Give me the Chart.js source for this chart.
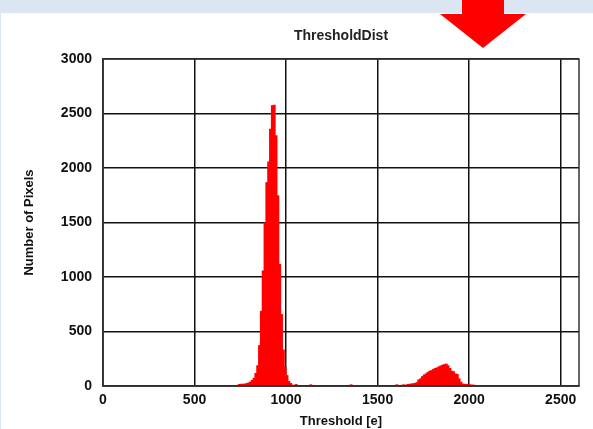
<!DOCTYPE html>
<html>
<head>
<meta charset="utf-8">
<script src="https://cdn.jsdelivr.net/npm/chart.js@4.4.1/dist/chart.umd.min.js"></script>
<style>
html, body { margin: 0; padding: 0; background: #fff; }
#wrap { position: relative; width: 593px; height: 429px; overflow: hidden; background: #fff; }
#band { position: absolute; left: 0; top: 0; width: 593px; height: 13px; background: #dce6f2; }
#strip { position: absolute; left: 0; top: 0; width: 1px; height: 429px; background: #dce6f2; }
#arrow { position: absolute; left: 440px; top: 0; width: 86px; height: 48px; background: #ff0000;
  clip-path: polygon(22px 0, 64px 0, 64px 14px, 86px 14px, 43px 48px, 0 14px, 22px 14px); }
</style>
</head>
<body>
<div id="wrap">
  <canvas id="histChart"></canvas>
  <div id="band"></div>
  <div id="strip"></div>
  <div id="arrow"></div>
</div>
<script>
// bin centres [e] and pixel counts (bin width 10)
const binCenters = [
  735, 745, 755, 765, 775, 785, 795, 805, 815, 825, 835, 845, 855, 865, 875, 885, 895, 905,
  915, 925, 935, 945, 955, 965, 975, 985, 995, 1005, 1015, 1025, 1035, 1045, 1055, 1065, 1135, 1355,
  1605, 1635, 1645, 1665, 1675, 1685, 1695, 1705, 1715, 1725, 1735, 1745, 1755, 1765, 1775, 1785,
  1795, 1805, 1815, 1825, 1835, 1845, 1855, 1865, 1875, 1885, 1895, 1905, 1915, 1925, 1935, 1945,
  1955, 1965, 1975, 1985, 1995, 2005, 2015, 2025, 2035, 2045
];
const pixelCounts = [
  10, 18, 20, 20, 22, 26, 32, 40, 55, 75, 120, 190, 375, 690, 1060, 1500, 1870, 2060,
  2360, 2575, 2580, 2300, 1750, 1120, 660, 335, 175, 100, 45, 28, 12, 6, 18, 5, 15, 15,
  15, 12, 15, 18, 20, 22, 25, 28, 35, 60, 70, 90, 105, 115, 128, 140,
  145, 155, 165, 170, 180, 188, 195, 200, 205, 190, 165, 140, 135, 115, 110, 70,
  40, 22, 20, 18, 20, 15, 12, 12, 8, 6
];
const xTicks = [0, 500, 1000, 1500, 2000, 2500];
const yTicks = [0, 500, 1000, 1500, 2000, 2500, 3000];

const FONT = "'Liberation Sans', Arial, sans-serif";

// frame round the plot area
const frame = {
  id: "frame",
  afterDraw(chart) {
    const a = chart.chartArea;
    const ctx = chart.ctx;
    ctx.save();
    ctx.strokeStyle = "#333";
    ctx.lineWidth = 1.5;
    ctx.strokeRect(a.left, a.top, a.right - a.left, a.bottom - a.top);
    ctx.restore();
  }
};

new Chart(document.getElementById("histChart"), {
  type: "bar",
  data: {
    datasets: [{
      data: binCenters.map((c, i) => ({ x: c, y: pixelCounts[i] })),
      backgroundColor: "#ff0000",
      borderWidth: 0,
      barPercentage: 1.6,   // overlap neighbours so no hairline seams between bins
      categoryPercentage: 1,
      grouped: false
    }]
  },
  options: {
    responsive: true,
    maintainAspectRatio: false,
    animation: false,
    devicePixelRatio: 1,
    layout: { padding: { left: 0, right: 14, top: 0, bottom: 0 } },
    plugins: {
      legend: { display: false },
      tooltip: { enabled: false },
      title: {
        display: true,
        text: "ThresholdDist",
        fullSize: false,
        color: "#222",
        font: { family: FONT, size: 14, weight: "bold" },
        padding: { top: 27.6, bottom: 14.6 }
      }
    },
    scales: {
      x: {
        type: "linear",
        min: 0,
        max: 2600,
        offset: false,
        z: 1,
        afterBuildTicks: s => { s.ticks = xTicks.map(v => ({ value: v })); },
        afterFit: s => { s.height = 43; },
        ticks: {
          padding: 6,
          maxRotation: 0,
          color: "#111",
          font: { family: FONT, size: 14, weight: "bold" },
          callback: v => String(v)
        },
        grid: { color: "#111", lineWidth: 1.5, drawTicks: false, offset: false },
        border: { color: "#222", width: 1.5 },
        title: {
          display: true,
          text: "Threshold [e]",
          color: "#111",
          font: { family: FONT, size: 13, weight: "bold" },
          padding: { top: 0, bottom: 0 }
        }
      },
      y: {
        min: 0,
        max: 3000,
        afterBuildTicks: s => { s.ticks = yTicks.map(v => ({ value: v })); },
        afterFit: s => { s.width = 103; },
        ticks: {
          padding: 11,
          color: "#111",
          font: { family: FONT, size: 14, weight: "bold" },
          callback: v => String(v)
        },
        grid: { color: "#111", lineWidth: 1.5, drawTicks: false },
        border: { color: "#222", width: 1.5 },
        title: {
          display: true,
          text: "Number of Pixels",
          color: "#111",
          font: { family: FONT, size: 13, weight: "bold" },
          padding: { top: 22, bottom: 0 }
        }
      }
    }
  },
  plugins: [frame]
});
</script>
</body>
</html>
